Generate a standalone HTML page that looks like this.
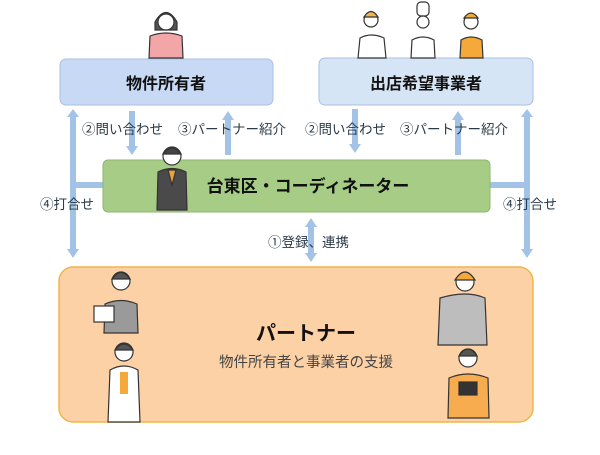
<!DOCTYPE html>
<html><head><meta charset="utf-8"><style>
body{margin:0;width:600px;height:450px;background:#fff;overflow:hidden}
svg text{font-family:"Liberation Sans","Noto Sans CJK JP",sans-serif}
</style></head><body>
<svg width="600" height="450" viewBox="0 0 600 450">
<g stroke="#a3c3e6" stroke-width="6" fill="none">
<line x1="73" y1="116" x2="73" y2="250"/>
<line x1="527" y1="116" x2="527" y2="250"/>
<line x1="73" y1="185" x2="103" y2="185"/>
<line x1="490" y1="185" x2="527" y2="185"/>
<line x1="132" y1="111" x2="132" y2="147"/>
<line x1="228" y1="155" x2="228" y2="119"/>
<line x1="355" y1="109" x2="355" y2="145"/>
<line x1="458" y1="155" x2="458" y2="119"/>
<line x1="311" y1="226" x2="311" y2="254"/>
</g>
<g fill="#a3c3e6">
<path d="M67,117 L79,117 L73,109 Z"/><path d="M67,249 L79,249 L73,258 Z"/>
<path d="M521,117 L533,117 L527,109 Z"/><path d="M521,249 L533,249 L527,258 Z"/>
<path d="M126,146 L138,146 L132,155 Z"/>
<path d="M222,120 L234,120 L228,111 Z"/>
<path d="M349,144 L361,144 L355,153 Z"/>
<path d="M452,120 L464,120 L458,111 Z"/>
<path d="M305,227 L317,227 L311,218 Z"/><path d="M305,253 L317,253 L311,262 Z"/>
</g>
<rect x="60" y="59" width="213" height="46" rx="6" fill="#c7d9f5" stroke="#a9c0e3"/>
<rect x="319" y="58" width="214" height="47" rx="6" fill="#d6e5f5" stroke="#a9c0e3"/>
<rect x="103" y="160" width="387" height="52" rx="5" fill="#a7cc86" stroke="#8fb66f"/>
<rect x="59" y="267" width="474" height="155" rx="14" fill="#fdd1a6" stroke="#f0b548" stroke-width="1.5"/>
<g font-weight="bold" fill="#111" font-size="16" text-anchor="middle">
<text x="166" y="89">物件所有者</text>
<text x="426" y="89">出店希望事業者</text>
<text x="308" y="192" font-size="17">台東区・コーディネーター</text>
<text x="306" y="340" font-size="20">パートナー</text>
</g>
<g fill="#2a3a48" font-size="13.5">
<text x="82" y="134">②問い合わせ</text>
<text x="178" y="134">③パートナー紹介</text>
<text x="305" y="134">②問い合わせ</text>
<text x="400" y="134">③パートナー紹介</text>
<text x="40" y="209">④打合せ</text>
<text x="503" y="209">④打合せ</text>
<text x="268" y="247">①登録、連携</text>
<text x="306" y="367" text-anchor="middle" font-size="14.5" fill="#444">物件所有者と事業者の支援</text>
</g>
<g stroke="#333" stroke-width="1.2">
<path d="M149,58 L150,36 Q166,30 182,36 L183,58 Z" fill="#f2a6a8"/>
<path d="M155,22 Q166,3 177,22 L177,30 L155,30 Z" fill="#555"/>
<circle cx="166" cy="22" r="8" fill="#fff"/>
<path d="M358,58 L360,38 Q371,32 384,38 L386,58 Z" fill="#fff"/>
<circle cx="371" cy="20" r="7" fill="#fff"/><path d="M364,17 Q371,6 378,17 Z" fill="#f4b34a"/>
<path d="M411,58 L412,40 Q423,34 434,40 L435,58 Z" fill="#fff"/>
<rect x="417" y="2" width="12" height="14" rx="4" fill="#fff"/><circle cx="423" cy="22" r="6" fill="#fff"/>
<path d="M460,58 L461,40 Q471,34 482,40 L483,58 Z" fill="#f4a93a"/>
<circle cx="471" cy="22" r="7" fill="#fff"/><path d="M464,18 Q471,8 478,18 Z" fill="#f4a93a"/>
<path d="M157,210 L158,172 Q172,165 186,172 L187,210 Z" fill="#4a4a4a"/>
<path d="M168,170 L176,170 L172,185 Z" fill="#e9a23b"/>
<circle cx="172" cy="156" r="9" fill="#fff"/><path d="M163,154 Q172,142 181,154 Z" fill="#444"/>
<path d="M104,333 L105,304 Q121,297 137,304 L138,333 Z" fill="#9a9a9a"/>
<circle cx="121" cy="281" r="9" fill="#fff"/><path d="M112,279 Q121,266 130,279 Z" fill="#555"/>
<rect x="94" y="306" width="20" height="16" fill="#fff"/>
<path d="M108,422 L110,370 Q124,362 138,370 L140,422 Z" fill="#fff"/>
<rect x="120" y="372" width="8" height="22" fill="#f4a93a" stroke="none"/>
<circle cx="124" cy="352" r="9" fill="#fff"/><path d="M115,350 Q124,338 133,350 Z" fill="#555"/>
<path d="M438,345 L440,298 Q467,290 485,298 L487,345 Z" fill="#bdbdbd"/>
<circle cx="465" cy="282" r="9" fill="#fff"/><path d="M455,280 Q465,264 475,280 Z" fill="#f4a93a"/>
<path d="M448,418 L449,378 Q468,370 488,378 L489,418 Z" fill="#f7ad4f"/>
<circle cx="468" cy="358" r="9" fill="#fff"/><path d="M459,356 Q468,342 477,356 Z" fill="#555"/>
<rect x="459" y="382" width="18" height="13" fill="#333"/>
</g>
</svg>
</body></html>
